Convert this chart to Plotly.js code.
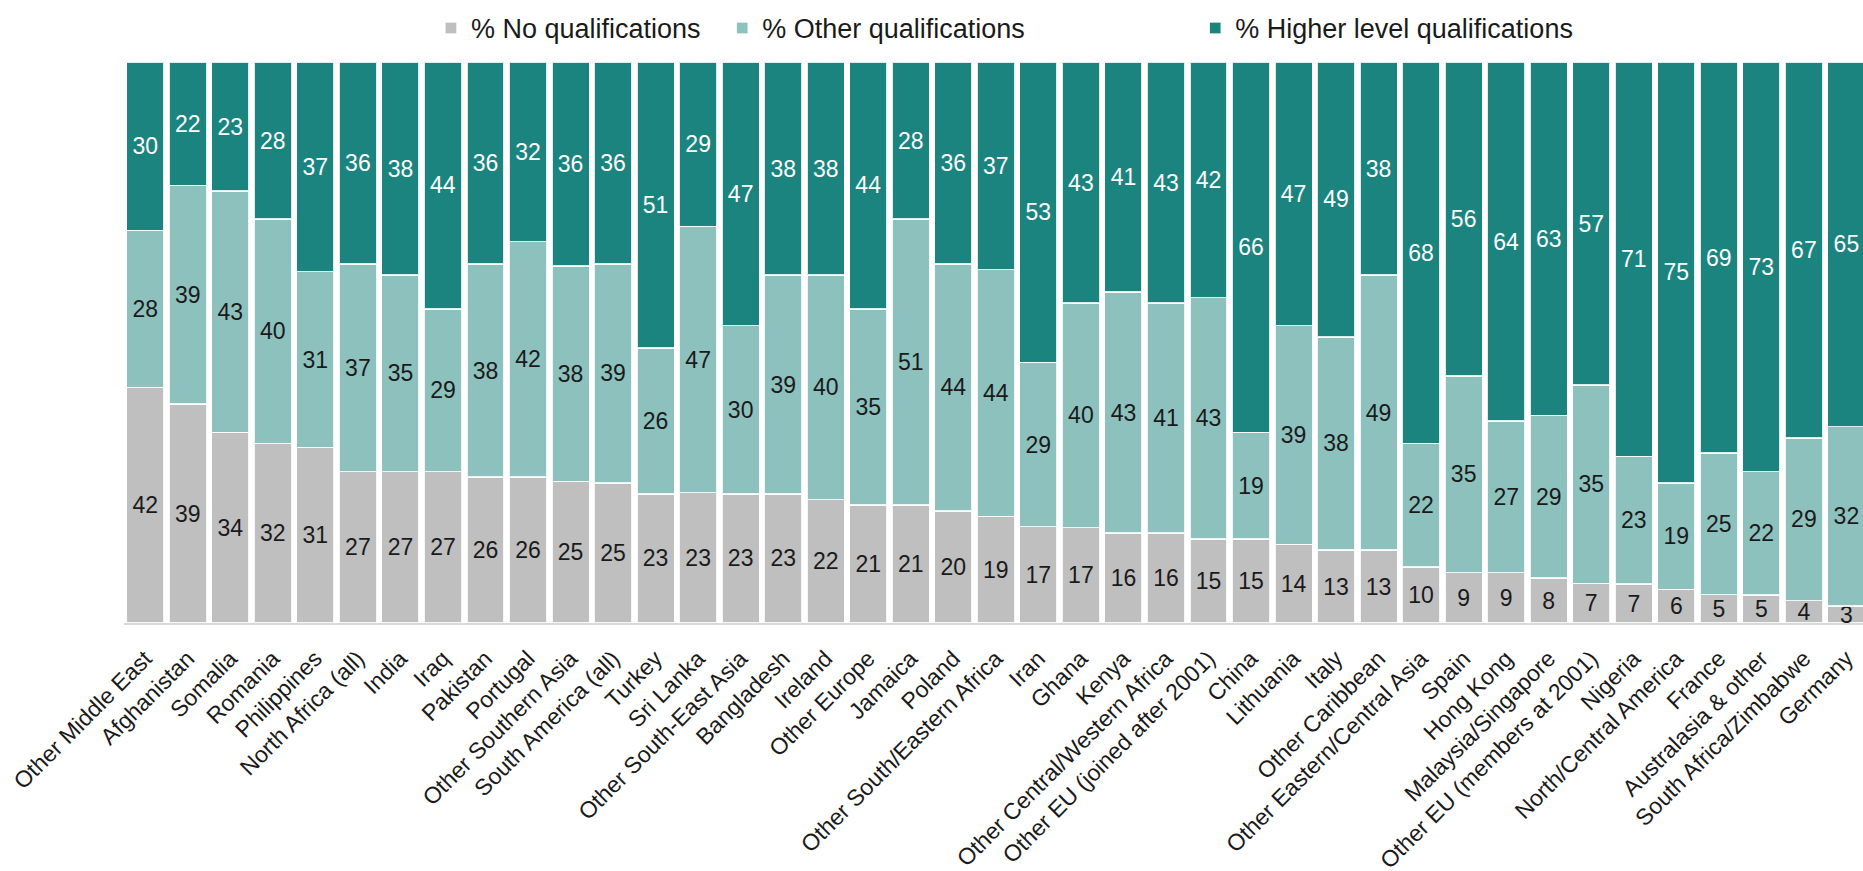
<!DOCTYPE html>
<html>
<head>
<meta charset="utf-8">
<script src="https://cdn.plot.ly/plotly-3.0.1.min.js"></script>
<style>
  html, body { margin: 0; padding: 0; background: #ffffff; }
  #chart { width: 1863px; height: 871px; }
</style>
</head>
<body>
<div id="chart"></div>
<script>
const categories = [
  "Other Middle East", "Afghanistan", "Somalia", "Romania", "Philippines",
  "North Africa (all)", "India", "Iraq", "Pakistan", "Portugal",
  "Other Southern Asia", "South America (all)", "Turkey", "Sri Lanka",
  "Other South-East Asia", "Bangladesh", "Ireland", "Other Europe", "Jamaica",
  "Poland", "Other South/Eastern Africa", "Iran", "Ghana", "Kenya",
  "Other Central/Western Africa", "Other EU (joined after 2001)", "China",
  "Lithuania", "Italy", "Other Caribbean", "Other Eastern/Central Asia",
  "Spain", "Hong Kong", "Malaysia/Singapore", "Other EU (members at 2001)",
  "Nigeria", "North/Central America", "France", "Australasia & other",
  "South Africa/Zimbabwe", "Germany"
];

const noQualifications = [
  42, 39, 34, 32, 31, 27, 27, 27, 26, 26, 25, 25, 23, 23, 23, 23, 22, 21, 21, 20,
  19, 17, 17, 16, 16, 15, 15, 14, 13, 13, 10, 9, 9, 8, 7, 7, 6, 5, 5, 4, 3
];

const otherQualifications = [
  28, 39, 43, 40, 31, 37, 35, 29, 38, 42, 38, 39, 26, 47, 30, 39, 40, 35, 51, 44,
  44, 29, 40, 43, 41, 43, 19, 39, 38, 49, 22, 35, 27, 29, 35, 23, 19, 25, 22, 29, 32
];

const higherQualifications = [
  30, 22, 23, 28, 37, 36, 38, 44, 36, 32, 36, 36, 51, 29, 47, 38, 38, 44, 28, 36,
  37, 53, 43, 41, 43, 42, 66, 47, 49, 38, 68, 56, 64, 63, 57, 71, 75, 69, 73, 67, 65
];

const seriesNames = ["% No qualifications", "% Other qualifications", "% Higher level qualifications"];

const FONT = "Liberation Sans, Arial, Helvetica, sans-serif";

function makeTrace(name, values, color, textColor, legendId) {
  return {
    type: "bar",
    name: name,
    x: categories,
    y: values,
    text: values.map(String),
    texttemplate: "%{text}",
    textposition: "inside",
    insidetextanchor: "middle",
    constraintext: "none",
    textangle: 0,
    insidetextfont: { family: FONT, size: 23, color: textColor },
    marker: { color: color, line: { color: "rgba(255,255,255,0.85)", width: 1.5 } },
    legend: legendId,
    hoverinfo: "x+name+text"
  };
}

const data = [
  makeTrace(seriesNames[0], noQualifications, "#bfbfbf", "#1a1a1a", "legend"),
  makeTrace(seriesNames[1], otherQualifications, "#8dc1be", "#1a1a1a", "legend2"),
  makeTrace(seriesNames[2], higherQualifications, "#1b847e", "#ffffff", "legend3")
];

const legendCommon = {
  orientation: "h",
  xanchor: "left",
  yanchor: "middle",
  y: 1.06,
  bgcolor: "rgba(0,0,0,0)",
  font: { family: FONT, size: 27, color: "#1a1a1a" },
  itemclick: false,
  itemdoubleclick: false
};

const layout = {
  width: 1863,
  height: 871,
  margin: { l: 124, r: 0, t: 62, b: 248, pad: 0 },
  paper_bgcolor: "#ffffff",
  plot_bgcolor: "#ffffff",
  barmode: "stack",
  barnorm: "percent",
  bargap: 0.12,
  showlegend: true,
  legend: Object.assign({}, legendCommon, { x: 0.1765 }),
  legend2: Object.assign({}, legendCommon, { x: 0.344 }),
  legend3: Object.assign({}, legendCommon, { x: 0.616 }),
  xaxis: {
    type: "category",
    range: [-0.5, 40.39],
    tickangle: -45,
    tickfont: { family: FONT, size: 23, color: "#1a1a1a" },
    showline: true,
    linecolor: "#d9d9d9",
    linewidth: 2,
    ticks: "outside",
    ticklen: 11,
    tickcolor: "rgba(0,0,0,0)",
    showgrid: false,
    zeroline: false,
    automargin: false,
    fixedrange: true
  },
  yaxis: {
    range: [0, 100],
    showticklabels: false,
    showgrid: false,
    zeroline: false,
    showline: false,
    ticks: "",
    automargin: false,
    fixedrange: true
  }
};

Plotly.newPlot("chart", data, layout, { displayModeBar: false, staticPlot: true });
</script>
</body>
</html>
